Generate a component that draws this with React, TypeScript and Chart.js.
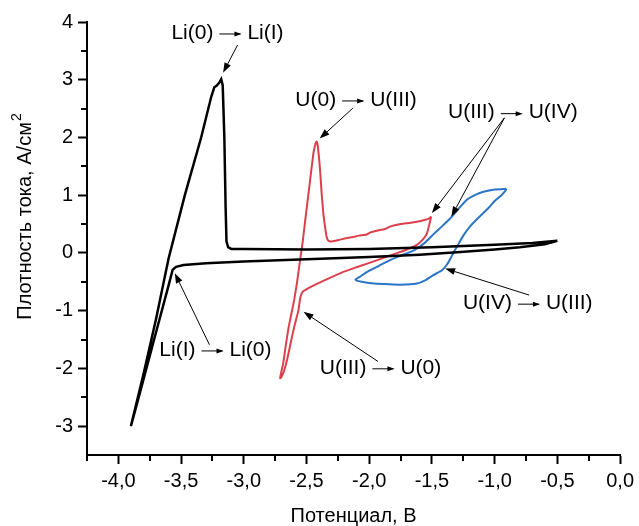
import { useEffect, useRef } from "react";
import { Chart, registerables } from "chart.js";

Chart.register(...registerables);

// ---------- data ----------
// Li cycle (black): cathodic from -0.5 V, then anodic back
const blackX = [
  -0.5, -0.6, -0.8, -1.0, -1.3, -1.6, -2.0, -2.5, -3.0, -3.3, -3.48, -3.54, -3.567,
  -3.598, -3.715, -3.813, -3.9,
  -3.8, -3.7, -3.6, -3.47, -3.34, -3.26, -3.235, -3.215, -3.195, -3.18, -3.168, -3.155, -3.145, -3.138,
  -3.125, -3.1, -3.0, -2.5, -2.0, -1.5, -1.0, -0.7, -0.5,
];
const blackY = [
  0.21, 0.15, 0.1, 0.06, 0.01, -0.03, -0.07, -0.11, -0.15, -0.18, -0.21, -0.24, -0.29,
  -0.55, -1.5, -2.3, -3.0,
  -2.1, -1.15, -0.1, 1.0, 2.0, 2.7, 2.87, 2.9, 2.95, 3.01, 2.9, 2.0, 0.8, 0.2,
  0.1, 0.07, 0.07, 0.06, 0.07, 0.1, 0.14, 0.17, 0.21,
];

// U(0)/U(III) cycle (red)
const redX = [
  -1.506, -1.52, -1.54, -1.57, -1.62, -1.7, -1.775, -1.93, -2.09, -2.22, -2.353, -2.43, -2.485, -2.53,
  -2.55, -2.565, -2.6, -2.63, -2.655, -2.68, -2.7, -2.71,
  -2.7, -2.685, -2.665, -2.642, -2.62, -2.598, -2.575, -2.553, -2.53, -2.51, -2.48, -2.445, -2.43, -2.42,
  -2.41, -2.392, -2.38, -2.366, -2.35, -2.34, -2.325, -2.3, -2.25, -2.195, -2.145, -2.08, -2.02, -1.985,
  -1.93, -1.88, -1.83, -1.75, -1.68, -1.62, -1.56, -1.52, -1.506,
];
const redY = [
  0.63, 0.5, 0.34, 0.24, 0.14, 0.06, 0.0, -0.12, -0.24, -0.34, -0.47, -0.55, -0.61, -0.67,
  -0.78, -1.0, -1.3, -1.6, -1.85, -2.05, -2.15, -2.17,
  -2.05, -1.9, -1.6, -1.28, -1.05, -0.81, -0.5, -0.15, 0.2, 0.57, 1.1, 1.73, 1.88, 1.93,
  1.85, 1.44, 1.05, 0.69, 0.42, 0.28, 0.21, 0.2, 0.22, 0.25, 0.27, 0.3, 0.32, 0.36,
  0.39, 0.41, 0.46, 0.5, 0.52, 0.54, 0.57, 0.6, 0.63,
];

// U(III)/U(IV) cycle (blue)
const blueX = [
  -0.906, -0.92, -0.95, -1.0, -1.04, -1.12, -1.196, -1.25, -1.3, -1.33, -1.353, -1.38, -1.42, -1.485,
  -1.55, -1.62, -1.75, -1.88, -2.0, -2.06, -2.1, -2.11,
  -2.08, -2.01, -1.92, -1.83, -1.74, -1.64, -1.56, -1.485, -1.42, -1.353, -1.29, -1.222, -1.15, -1.09,
  -1.0, -0.906,
];
const blueY = [
  1.11, 1.06, 0.99, 0.9, 0.8, 0.63, 0.46, 0.3, 0.11, 0.0, -0.1, -0.2, -0.3, -0.38,
  -0.47, -0.53, -0.55, -0.54, -0.52, -0.5, -0.48, -0.46,
  -0.42, -0.32, -0.22, -0.12, -0.04, 0.05, 0.17, 0.33, 0.46, 0.6, 0.76, 0.92, 1.01, 1.06,
  1.1, 1.11,
];

// axes
const xMajorTicks = [-4.0, -3.5, -3.0, -2.5, -2.0, -1.5, -1.0, -0.5, 0.0];
const xMinorTicks = [-4.25, -3.75, -3.25, -2.75, -2.25, -1.75, -1.25, -0.75, -0.25];
const yMajorTicks = [-3, -2, -1, 0, 1, 2, 3, 4];
const yMinorTicks = [-2.5, -1.5, -0.5, 0.5, 1.5, 2.5, 3.5];
const xTitle = "Потенциал, В";
const yTitle = "Плотность тока, А/см";
const yTitleSup = "2";

// annotations
const noteLeft = ["Li(0)", "U(0)", "U(III)", "U(IV)", "U(III)", "Li(I)"];
const noteRight = ["Li(I)", "U(III)", "U(IV)", "U(III)", "U(0)", "Li(0)"];
const noteX = [-3.13, -2.105, -0.855, -0.736, -1.91, -3.226];
const noteY = [3.81, 2.65, 2.43, -0.87, -1.99, -1.68];
const arrowFromX = [-3.05, -2.13, -0.922, -0.922, -0.725, -1.93, -3.274];
const arrowFromY = [3.6, 2.51, 2.34, 2.34, -0.73, -1.88, -1.59];
const arrowToX = [-3.165, -2.395, -1.5, -1.345, -1.395, -2.524, -3.55];
const arrowToY = [3.12, 1.98, 0.69, 0.63, -0.27, -1.02, -0.35];

const FONT = "'Liberation Sans', Arial, sans-serif";

const pts = (xs: number[], ys: number[]) => xs.map((x, i) => ({ x, y: ys[i] }));
const fmtX = (v: number) => v.toFixed(1).replace(".", ",");

const drawPlugin = {
  id: "extras",
  afterDraw(chart: any) {
    const ctx = chart.ctx as CanvasRenderingContext2D;
    const xs = chart.scales.x;
    const ys = chart.scales.y;
    const ca = chart.chartArea;
    ctx.save();
    // minor ticks
    ctx.strokeStyle = "#000";
    ctx.lineWidth = 2;
    xMinorTicks.forEach((v) => {
      const px = Math.round(xs.getPixelForValue(v));
      ctx.beginPath();
      ctx.moveTo(px, ca.bottom);
      ctx.lineTo(px, ca.bottom + 6);
      ctx.stroke();
    });
    yMinorTicks.forEach((v) => {
      const py = Math.round(ys.getPixelForValue(v));
      ctx.beginPath();
      ctx.moveTo(ca.left, py);
      ctx.lineTo(ca.left - 6, py);
      ctx.stroke();
    });

    // arrows
    ctx.fillStyle = "#000";
    ctx.strokeStyle = "#000";
    ctx.lineWidth = 1;
    arrowFromX.forEach((fx, i) => {
      const x0 = xs.getPixelForValue(fx);
      const y0 = ys.getPixelForValue(arrowFromY[i]);
      const x1 = xs.getPixelForValue(arrowToX[i]);
      const y1 = ys.getPixelForValue(arrowToY[i]);
      const ang = Math.atan2(y1 - y0, x1 - x0);
      const hl = 10;
      const hw = 3.5;
      const bx = x1 - hl * Math.cos(ang);
      const by = y1 - hl * Math.sin(ang);
      ctx.beginPath();
      ctx.moveTo(x0, y0);
      ctx.lineTo(bx, by);
      ctx.stroke();
      ctx.beginPath();
      ctx.moveTo(x1, y1);
      ctx.lineTo(bx + hw * Math.sin(ang), by - hw * Math.cos(ang));
      ctx.lineTo(bx - hw * Math.sin(ang), by + hw * Math.cos(ang));
      ctx.closePath();
      ctx.fill();
    });

    // labels
    ctx.font = `21px ${FONT}`;
    ctx.textBaseline = "middle";
    ctx.textAlign = "left";
    const gap = 6;
    const arrowW = 22;
    noteLeft.forEach((a, i) => {
      const b = noteRight[i];
      const wa = ctx.measureText(a).width;
      const wb = ctx.measureText(b).width;
      const total = wa + gap + arrowW + gap + wb;
      const cx = xs.getPixelForValue(noteX[i]);
      const cy = ys.getPixelForValue(noteY[i]);
      let x = cx - total / 2;
      ctx.fillText(a, x, cy);
      x += wa + gap;
      const ay = cy + 1;
      ctx.lineWidth = 1;
      ctx.beginPath();
      ctx.moveTo(x, ay);
      ctx.lineTo(x + arrowW - 1, ay);
      ctx.stroke();
      ctx.beginPath();
      ctx.moveTo(x + arrowW, ay);
      ctx.lineTo(x + arrowW - 7, ay - 2.5);
      ctx.lineTo(x + arrowW - 7, ay + 2.5);
      ctx.closePath();
      ctx.fill();
      x += arrowW + gap;
      ctx.fillText(b, x, cy);
    });

    // axis titles
    ctx.font = `20px ${FONT}`;
    ctx.textAlign = "center";
    ctx.textBaseline = "middle";
    ctx.fillText(xTitle, (ca.left + ca.right) / 2, 516);

    ctx.translate(25, 217);
    ctx.rotate(-Math.PI / 2);
    ctx.textAlign = "left";
    const w = ctx.measureText(yTitle).width;
    ctx.font = `14px ${FONT}`;
    const ws = ctx.measureText(yTitleSup).width;
    const start = -(w + ws) / 2;
    ctx.font = `20px ${FONT}`;
    ctx.fillText(yTitle, start, 0);
    ctx.font = `14px ${FONT}`;
    ctx.fillText(yTitleSup, start + w + 1, -8);
    ctx.restore();
  },
};

export default function App() {
  const ref = useRef<HTMLCanvasElement | null>(null);
  useEffect(() => {
    if (!ref.current) return;
    const common = { showLine: true, pointRadius: 0, fill: false };
    const chart = new Chart(ref.current, {
      type: "scatter",
      data: {
        datasets: [
          { ...common, tension: 0, data: pts(blackX, blackY), borderColor: "#000000", borderWidth: 2.5 },
          { ...common, tension: 0.15, data: pts(redX, redY), borderColor: "#dc404b", borderWidth: 2 },
          { ...common, tension: 0.15, data: pts(blueX, blueY), borderColor: "#2b74c8", borderWidth: 2 },
        ],
      },
      options: {
        animation: false,
        responsive: true,
        maintainAspectRatio: false,
        layout: { padding: { top: 22, right: 16, left: 0, bottom: 0 } },
        plugins: { legend: { display: false }, tooltip: { enabled: false } },
        scales: {
          x: {
            type: "linear",
            min: -4.25,
            max: 0,
            position: "bottom",
            afterBuildTicks: (s: any) => {
              s.ticks = xMajorTicks.map((v) => ({ value: v }));
            },
            afterFit: (s: any) => {
              s.height = 71;
            },
            border: { display: true, color: "#000", width: 2 },
            grid: { drawOnChartArea: false, drawTicks: true, tickLength: 9, tickColor: "#000", tickWidth: 2 },
            ticks: {
              color: "#000",
              font: { size: 20, family: FONT },
              padding: 5,
              maxRotation: 0,
              autoSkip: false,
              callback: (v: any) => fmtX(Number(v)),
            },
          },
          y: {
            type: "linear",
            min: -3.5,
            max: 4,
            afterBuildTicks: (s: any) => {
              s.ticks = yMajorTicks.map((v) => ({ value: v }));
            },
            afterFit: (s: any) => {
              s.width = 87;
            },
            border: { display: true, color: "#000", width: 2 },
            grid: { drawOnChartArea: false, drawTicks: true, tickLength: 9, tickColor: "#000", tickWidth: 2 },
            ticks: {
              color: "#000",
              font: { size: 20, family: FONT },
              padding: 5,
              autoSkip: false,
              callback: (v: any) => String(Math.round(Number(v))),
            },
          },
        },
      },
      plugins: [drawPlugin],
    });
    return () => chart.destroy();
  }, []);
  return (
    <div style={{ position: "absolute", left: 0, top: 0, width: 639, height: 526, background: "#fff" }}>
      <canvas ref={ref} />
    </div>
  );
}
